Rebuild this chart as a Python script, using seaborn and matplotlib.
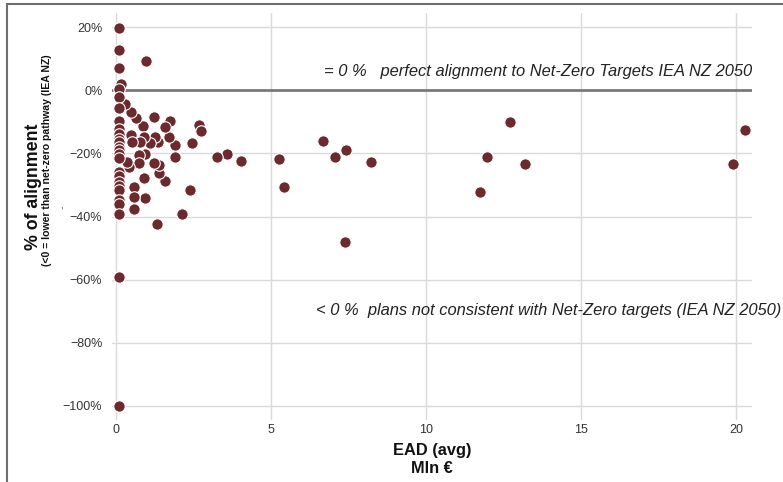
import matplotlib
matplotlib.use("Agg")
import matplotlib.pyplot as plt
from matplotlib.lines import Line2D
from matplotlib.ticker import FuncFormatter
import seaborn as sns
import pandas as pd

# EAD (avg), Mln €
ead = [19.90, 20.29, 12.68, 11.96, 13.18, 11.73, 6.66, 7.04, 7.41, 8.20,
       7.38, 5.40, 5.23, 4.02, 3.58, 3.26, 2.68, 2.74, 2.44, 2.39,
       2.13, 1.90, 1.90, 1.72, 1.69, 1.58, 1.58, 1.37, 1.37, 1.33,
       1.32, 1.24, 1.20, 1.20, 1.07, 0.97, 0.94, 0.91, 0.88, 0.85,
       0.88, 0.77, 0.72, 0.72, 0.65, 0.56, 0.56, 0.58, 0.48, 0.48,
       0.51, 0.42, 0.35, 0.29, 0.16,
       0.07, 0.07, 0.07, 0.07, 0.07, 0.07, 0.07, 0.07, 0.07, 0.07,
       0.07, 0.07, 0.07, 0.07, 0.07, 0.07, 0.07, 0.07, 0.07, 0.07,
       0.07, 0.07, 0.07, 0.07, 0.07]
# % of alignment
alignment = [-23.3, -12.5, -9.9, -21.2, -23.4, -32.1, -15.9, -21.2, -19.0, -22.8,
             -48.1, -30.7, -21.7, -22.4, -20.3, -21.2, -10.9, -12.8, -16.7, -31.6,
             -39.3, -17.3, -21.2, -9.6, -14.7, -11.6, -28.6, -26.3, -23.7, -16.3,
             -42.4, -14.8, -8.5, -22.9, -16.6, 9.5, -20.2, -34.2, -27.9, -11.4,
             -14.7, -16.3, -20.5, -22.9, -8.6, -30.5, -33.9, -37.7, -6.7, -14.2,
             -16.3, -24.4, -22.8, -4.3, 2.0,
             19.7, 12.9, 7.1, 0.4, -2.1, -5.4, -9.8, -12.1, -13.8, -15.3,
             -16.3, -17.8, -18.9, -20.2, -21.4, -25.8, -27.1, -28.9, -30.3, -31.6,
             -34.9, -36.0, -39.2, -59.1, -100.0]

x_ticks = [0, 5, 10, 15, 20]
y_ticks = [-100, -80, -60, -40, -20, 0, 20]

label_top = "= 0 %   perfect alignment to Net-Zero Targets IEA NZ 2050"
label_bottom = "< 0 %  plans not consistent with Net-Zero targets (IEA NZ 2050)"

df = pd.DataFrame({"EAD": ead, "Alignment": alignment})

sns.set_theme(style="whitegrid")
plt.rcParams["font.family"] = ["Liberation Sans", "DejaVu Sans"]

fig = plt.figure(figsize=(7.83, 4.82), dpi=100)
ax = fig.add_axes([112 / 783, 1 - 420 / 482, (752 - 112) / 783, (420 - 13) / 482])

ax.grid(True, color="#dadada", linewidth=1.0)
ax.axhline(0, color="#7a7a7a", linewidth=2.0, zorder=1.5)

sns.scatterplot(data=df, x="EAD", y="Alignment", ax=ax, color="#6b2a2e",
                s=68, edgecolor="white", linewidth=0.8, zorder=3, legend=False)

ax.set_xlim(-0.14, 20.5)
ax.set_ylim(-104.6, 24.6)
ax.set_xticks(x_ticks)
ax.set_yticks(y_ticks)
ax.yaxis.set_major_formatter(FuncFormatter(lambda v, p: f"{v:.0f}%".replace("-", "\u2212")))
ax.tick_params(axis="y", labelsize=9, colors="#333333", length=0, pad=7)
ax.tick_params(axis="x", labelsize=9, colors="#333333", length=0, pad=3)
for s in ax.spines.values():
    s.set_visible(False)

ax.set_xlabel("EAD (avg)\nMln €", fontsize=11.8, fontweight="bold", color="#111111",
              labelpad=5, linespacing=1.2)
ax.set_ylabel("")

ax.text(20.5, 5.9, label_top, ha="right", va="center", fontsize=11.9,
        style="italic", color="#222222")
ax.text(21.45, -69.7, label_bottom, ha="right", va="center", fontsize=11.9,
        style="italic", color="#222222", clip_on=False)

fig.text(33 / 783, 1 - 187 / 482, "% of alignment", rotation=90, ha="center",
         va="center", fontsize=12.8, fontweight="bold", color="#111111")
fig.text(47 / 783, 1 - 160 / 482, "(<0 = lower than net-zero pathway (IEA NZ)",
         rotation=90, ha="center", va="center", fontsize=7.6, fontweight="bold",
         color="#111111")
fig.text(61 / 783, 1 - 206 / 482, ",", ha="center", va="center", fontsize=7,
         color="#333333")

# frame lines of the original picture
fig.add_artist(Line2D([7 / 783, 1], [1 - 4 / 482, 1 - 4 / 482], transform=fig.transFigure,
                      color="#6e6e6e", linewidth=1.5))
fig.add_artist(Line2D([7 / 783, 7 / 783], [0, 1 - 4 / 482], transform=fig.transFigure,
                      color="#6e6e6e", linewidth=1.5))

fig.savefig("out.png", dpi=100, facecolor="white")
